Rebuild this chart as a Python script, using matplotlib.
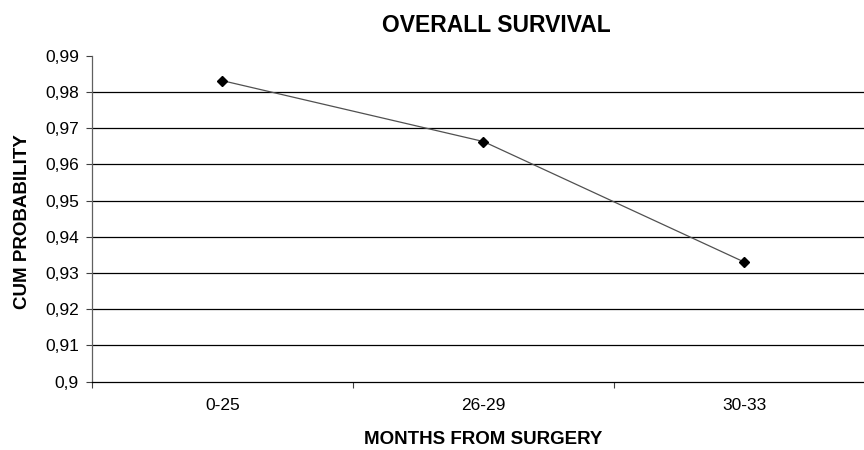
import matplotlib
matplotlib.use('Agg')

import matplotlib.pyplot as plt
from matplotlib.ticker import FuncFormatter

plt.rcParams['font.family'] = ['Liberation Sans', 'DejaVu Sans']

categories = ["0-25", "26-29", "30-33"]
cum_probability = [0.9831, 0.9663, 0.9330]
y_ticks = [0.90, 0.91, 0.92, 0.93, 0.94, 0.95, 0.96, 0.97, 0.98, 0.99]

fig = plt.figure(figsize=(8.64, 4.5), dpi=100)
# plot area runs past the right edge of the picture, like the original
ax = fig.add_axes([92 / 864, 1 - 381.7 / 450, 783 / 864, 326 / 450])

x = [i + 0.5 for i in range(len(categories))]
ax.plot(x, cum_probability, color='#505050', linewidth=0.9,
        marker='D', markersize=5.5, markerfacecolor='black', markeredgecolor='black')

ax.set_xlim(0, len(categories))
ax.set_ylim(0.9, 0.99)

# gridlines at inner ticks only
for v in y_ticks[1:-1]:
    ax.axhline(v, color='black', linewidth=0.9, zorder=0)

ax.set_yticks(y_ticks)
ax.yaxis.set_major_formatter(FuncFormatter(lambda v, p: ("%g" % round(v, 2)).replace('.', ',')))
ax.tick_params(axis='y', direction='out', length=4.5, width=0.8, pad=5, labelsize=12.5, color='#404040')

ax.set_xticks(range(len(categories) + 1))
ax.set_xticklabels([])
ax.set_xticks(x, minor=True)
ax.set_xticklabels(categories, minor=True)
ax.tick_params(axis='x', which='major', direction='out', length=4.5, width=0.8, color='#404040')
ax.tick_params(axis='x', which='minor', length=0, pad=12, labelsize=12.5)

for side in ['top', 'right']:
    ax.spines[side].set_visible(False)
ax.spines['left'].set_color('#606060')
ax.spines['bottom'].set_color('black')
ax.spines['left'].set_linewidth(0.9)
ax.spines['bottom'].set_linewidth(0.9)

fig.text(496 / 864, 1 - 26 / 450, "OVERALL SURVIVAL", ha='center', va='center',
         fontsize=16.5, fontweight='bold')
fig.text(23 / 864, 1 - 222 / 450, "CUM PROBABILITY", ha='center', va='center',
         rotation=90, fontsize=13.5, fontweight='bold')
fig.text(483 / 864, 1 - 440 / 450, "MONTHS FROM SURGERY", ha='center', va='center',
         fontsize=13.5, fontweight='bold')

fig.savefig('out.png', dpi=100)
